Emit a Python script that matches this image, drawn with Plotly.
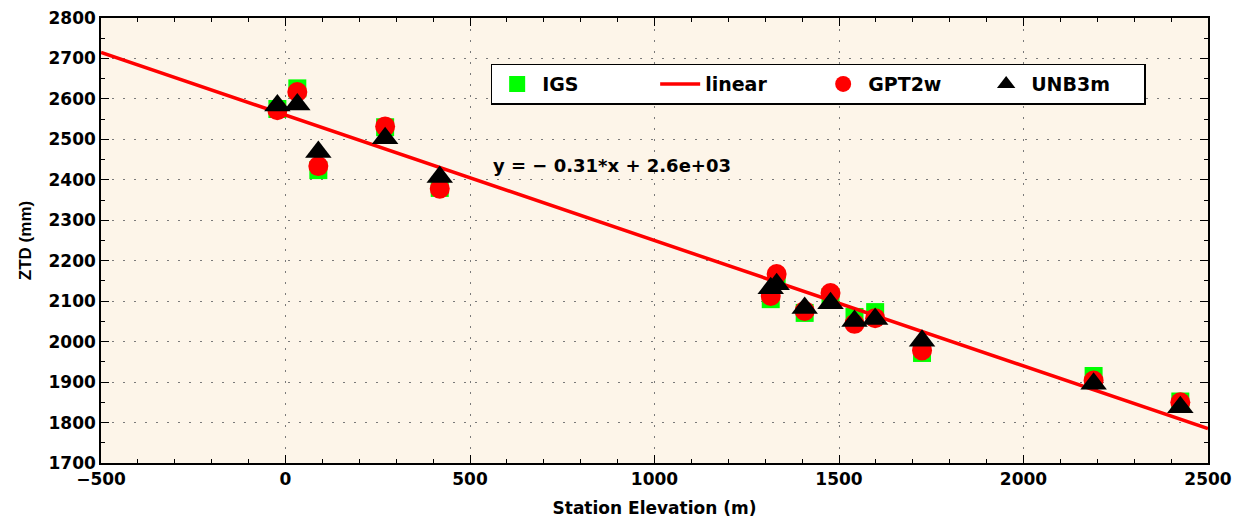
import plotly.graph_objects as go

# ---- data ----
elevation = [-22, 32, 89, 270, 418, 1315, 1331, 1407, 1477, 1542, 1598, 1725, 2190, 2425]
igs = [2575, 2626, 2424, 2530, 2380, 2105, 2150, 2071, 2110, 2061, 2073, 1972, 1915, 1852]
gpt2w = [2572, 2617, 2434, 2532, 2378, 2113, 2167, 2076, 2120, 2044, 2058, 1978, 1904, 1850]
unb3m = [2584, 2586, 2469, 2503, 2407, 2132, 2142, 2083, 2095, 2051, 2056, 2002, 1896, 1838]
fit_slope = -0.31
fit_intercept = 2560
line_x = [-500, 2500]
line_y = [fit_slope * v + fit_intercept for v in line_x]

x_ticks = [-500, 0, 500, 1000, 1500, 2000, 2500]
y_ticks = [1700, 1800, 1900, 2000, 2100, 2200, 2300, 2400, 2500, 2600, 2700, 2800]

WIDE = "DejaVu Sans"
NARROW = "Liberation Sans"

fig = go.Figure()
fig.add_trace(go.Scatter(x=elevation, y=igs, mode="markers", name="IGS",
                         marker=dict(symbol="square", size=18, color="#00ff00")))
fig.add_trace(go.Scatter(x=line_x, y=line_y, mode="lines", name="linear",
                         line=dict(color="#ff0000", width=3.5)))
fig.add_trace(go.Scatter(x=elevation, y=gpt2w, mode="markers", name="GPT2w",
                         marker=dict(symbol="circle", size=20, color="#ff0000")))
fig.add_trace(go.Scatter(x=elevation, y=unb3m, mode="markers", name="UNB3m",
                         marker=dict(symbol="triangle-up", size=23, color="#000000")))

axis_common = dict(
    showline=True, linecolor="black", linewidth=1.5, mirror="allticks",
    ticks="inside", ticklen=8, tickcolor="black", tickwidth=1,
    showgrid=True, gridcolor="#7a7a7a", griddash="2px,9px", gridwidth=1,
    zeroline=False, automargin=False, ticklabeloverflow="allow",
    tickfont=dict(family=WIDE, size=17, color="black", weight="bold"),
)

fig.update_xaxes(range=[-500, 2500], tickvals=x_ticks,
                 minor=dict(ticks="inside", ticklen=4, dtick=100, tickcolor="black", showgrid=False),
                 title=dict(text="Station Elevation (m)",
                            font=dict(family=WIDE, size=17, color="black", weight="bold"),
                            standoff=14),
                 **axis_common)
fig.update_yaxes(range=[1700, 2800], tickvals=y_ticks,
                 minor=dict(ticks="inside", ticklen=4, dtick=50, tickcolor="black", showgrid=False),
                 title=dict(text="ZTD (mm)",
                            font=dict(family=NARROW, size=17, color="black", weight="bold"),
                            standoff=13),
                 **axis_common)

fig.add_annotation(x=0.352, y=0.668, xref="paper", yref="paper", xanchor="left", yanchor="middle",
                   text="y = − 0.31*x + 2.6e+03", showarrow=False,
                   font=dict(family=WIDE, size=18, color="black", weight="bold"))

fig.update_layout(
    width=1247, height=522,
    margin=dict(l=93, r=47, t=10, b=67),
    paper_bgcolor="white",
    plot_bgcolor="#fdf5e9",
    legend=dict(orientation="h", x=0.352, y=0.8976, xanchor="left", yanchor="top",
                bgcolor="white", bordercolor="black", borderwidth=1.5,
                font=dict(family=WIDE, size=19, color="black", weight="bold"),
                entrywidth=108, entrywidthmode="pixels", itemwidth=40),
)

fig.write_html("out.html")
